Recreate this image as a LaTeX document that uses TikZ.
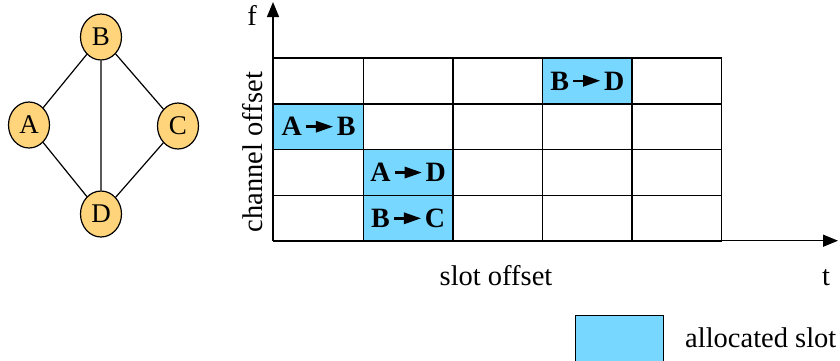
\documentclass[tikz,border=0pt]{standalone}
\usepackage{fontspec}
\setmainfont{Liberation Serif}
\usetikzlibrary{arrows.meta,shapes.geometric,positioning}

\definecolor{nodeorange}{RGB}{255,212,122}
\definecolor{slotblue}{RGB}{120,215,255}

% small solid arrow used inside the slot labels
\newcommand{\sarr}{\tikz[baseline={(0pt,-9.3pt)},x=1pt,y=1pt]{\fill (0,-1.2) rectangle (12,1.2); \fill (10,-6) -- (27,0) -- (10,6) -- cycle;}}
\newcommand{\lnk}[2]{#1\hspace{4pt}\sarr\hspace{4pt}#2}

\begin{document}
\begin{tikzpicture}[x=1pt,y=-1pt,>={Triangle[length=15pt,width=12pt]},
  vertex/.style={ellipse,draw,line width=1.2pt,fill=nodeorange,minimum width=41pt,
    minimum height=46pt,inner sep=0pt,font=\fontsize{27}{30}\selectfont},
  cell/.style={draw,line width=1.4pt,minimum width=89.6pt,minimum height=45.85pt,
    inner sep=0pt,anchor=north west},
  alloc/.style={cell,fill=slotblue,font=\fontsize{28}{32}\selectfont\bfseries},
  lbl/.style={font=\fontsize{28.5}{32}\selectfont,inner sep=0pt}]
  \useasboundingbox (0,0) rectangle (840,360);

  % the graph
  \node[vertex] (B) at (101,37)  {B};
  \node[vertex] (A) at (29,125)  {A};
  \node[vertex] (C) at (178,126) {C};
  \node[vertex] (D) at (101,214) {D};
  \path[draw,line width=1.2pt] (B) -- (A)  (B) -- (C)  (B) -- (D)
    (A) -- (D)  (C) -- (D);

  % the slotframe
  \foreach \i in {0,...,4}
    \foreach \j in {0,...,3}
      \node[cell] (c\i\j) at ({273+89.6*\i},{57.3+45.85*\j}) {};
  \node[alloc] (ab) at ({273+89.6*0},{57.3+45.85*1}) {\lnk{A}{B}};
  \node[alloc] (ad) at ({273+89.6*1},{57.3+45.85*2}) {\lnk{A}{D}};
  \node[alloc] (bc) at ({273+89.6*1},{57.3+45.85*3}) {\lnk{B}{C}};
  \node[alloc] (bd) at ({273+89.6*3},{57.3+45.85*0}) {\lnk{B}{D}};

  % axes
  \coordinate (o) at (273,240.7);
  \coordinate (ftop) at (273,2);
  \coordinate (tend) at (838,240.7);
  \draw[->,line width=1.4pt] (o) -- (ftop);
  \draw[->,line width=1.4pt] (o) -- (tend);
  \node[lbl,anchor=base] (f) at (252,25) {f};
  \node[lbl,anchor=base] (t) at (826,285) {t};
  \node[lbl,anchor=base] (slot) at (496,285) {slot offset};
  \node[lbl,anchor=base,rotate=90] (chan) at (262,152) {channel offset};

  % legend
  \node[cell,fill=slotblue,minimum width=88pt,minimum height=46pt] (key) at (575,315) {};
  \node[lbl,anchor=base west] (keytext) at (685,347) {allocated slot};
\end{tikzpicture}
\end{document}
